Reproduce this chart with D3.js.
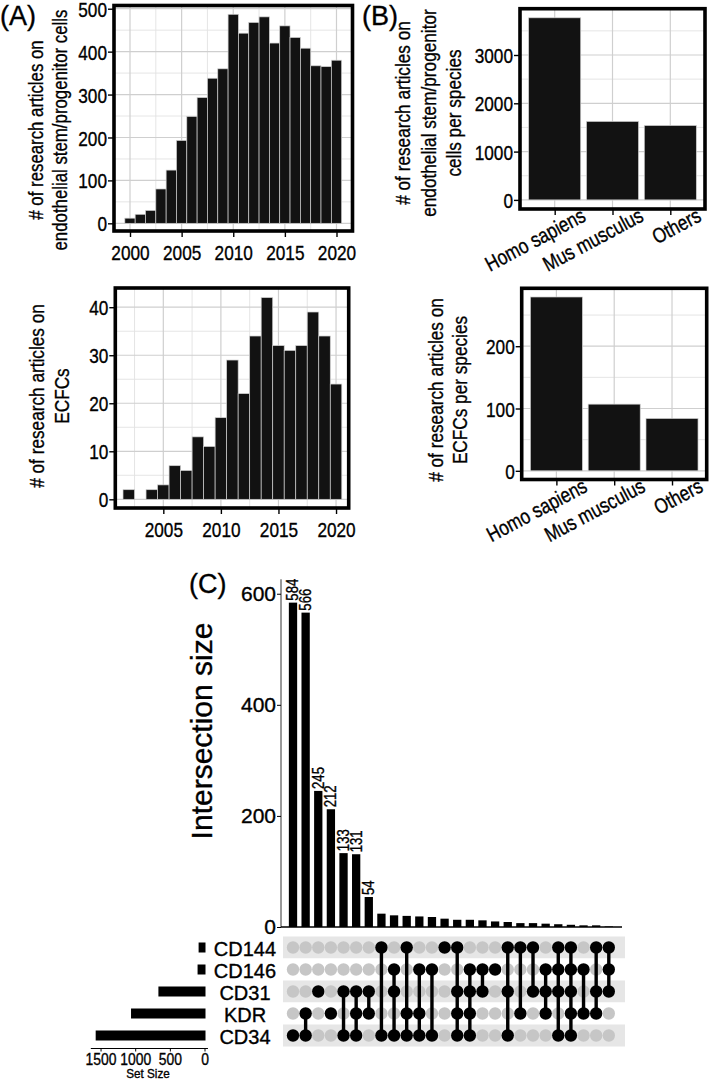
<!DOCTYPE html>
<html><head><meta charset="utf-8">
<script src="https://cdn.jsdelivr.net/npm/d3@7"></script>
<style>
body{margin:0;background:#fff}
svg{display:block}
svg text{stroke:#000;stroke-width:0.35px;paint-order:stroke}
</style>
</head><body>
<svg id="c" width="709" height="1083"></svg>
<script>
// ---------- DATA ----------
const yearsAll = d3.range(2000, 2021);
const articlesAll = [12,21,30,80,124,193,249,293,338,360,487,443,468,481,420,460,433,408,367,365,380];
const yearsECFC = d3.range(2002, 2021);
const articlesECFC = [2,0,2,3,7,6,13,11,17,29,22,34,42,32,31,32,39,34,24];
const species = ["Homo sapiens","Mus musculus","Others"];
const speciesAll = [3770,1625,1540];
const speciesECFC = [279,107,84];
const sets = ["CD144","CD146","CD31","KDR","CD34"];
const setSizes = [85,100,665,1060,1570];
const intersections = [
  ["CD34"],["KDR","CD34"],["CD31"],["KDR"],["CD31","CD34"],["CD31","KDR","CD34"],["CD31","KDR"],
  ["CD144","CD34"],["CD146","CD31","CD34"],["CD144","KDR","CD34"],["CD146","KDR","CD34"],["CD146","CD34"],
  ["CD144"],["CD144","CD31","KDR","CD34"],["CD146","CD31","KDR","CD34"],["CD146","CD31"],["CD146"],
  ["CD144","CD31","CD34"],["CD144","KDR"],["CD144","CD31"],["CD146","CD31","KDR"],
  ["CD144","CD146","CD31","CD34"],["CD144","CD146","CD31","KDR","CD34"],["CD146","KDR"],
  ["CD144","CD31","KDR"],["CD144","CD146","CD31"]
];
const intersectionSizes = [584,566,245,212,133,131,54,24,21,20,19,18,15,13,13,12,10,9,7,7,6,5,4,3,3,1];
const labelledCount = 7;
const yTicksAll = [0,100,200,300,400,500];
const yTicksECFC = [0,10,20,30,40];
const xTicksAll = [2000,2005,2010,2015,2020];
const xTicksECFC = [2005,2010,2015,2020];
const yTicksSpAll = [0,1000,2000,3000];
const yTicksSpECFC = [0,100,200];
const yTicksInter = [0,200,400,600];
const xTicksSet = [1500,1000,500,0];

// ---------- HELPERS ----------
const svg = d3.select("#c");
const FONT = "'Liberation Sans',Arial,sans-serif";
const NX = 0.82; // horizontal condensing factor (narrow look)
const BAR = "#121212";

function styleAxis(g, size, narrow){
  g.select(".domain").remove();
  g.selectAll(".tick line").attr("stroke","#000").attr("stroke-width",1.4);
  const t = g.selectAll(".tick text").attr("fill","#000").style("font-family",FONT).style("font-size",size+"px");
  if(narrow){
    t.each(function(){
      const s = d3.select(this);
      const x = +s.attr("x") || 0;
      s.attr("x",0).attr("transform",`translate(${x},0) scale(${NX},1)`);
    });
  }
}

function ggPanel(o){
  const g = svg.append("g");
  const [L,R] = o.x.range(), [B,T] = o.y.range();
  g.selectAll(null).data(o.yMinor).join("line")
    .attr("x1",L).attr("x2",R).attr("y1",d=>o.y(d)).attr("y2",d=>o.y(d))
    .attr("stroke","#e2e2e2").attr("stroke-width",0.9);
  g.selectAll(null).data(o.xMinor||[]).join("line")
    .attr("y1",T).attr("y2",B).attr("x1",d=>o.x(d)).attr("x2",d=>o.x(d))
    .attr("stroke","#e2e2e2").attr("stroke-width",0.9);
  g.selectAll(null).data(o.yTicks).join("line")
    .attr("x1",L).attr("x2",R).attr("y1",d=>o.y(d)).attr("y2",d=>o.y(d))
    .attr("stroke","#cfcfcf").attr("stroke-width",1.2);
  g.selectAll(null).data(o.xTicks).join("line")
    .attr("y1",T).attr("y2",B).attr("x1",d=>o.x(d)).attr("x2",d=>o.x(d))
    .attr("stroke","#cfcfcf").attr("stroke-width",1.2);
  o.drawBars(g);
  g.append("rect").attr("x",L).attr("y",T).attr("width",R-L).attr("height",B-T)
    .attr("fill","none").attr("stroke","#000").attr("stroke-width",3.6);
  const ya = g.append("g").attr("transform",`translate(${L},0)`)
    .call(d3.axisLeft(o.y).tickValues(o.yTicks).tickSize(6).tickPadding(1).tickFormat(d3.format("d")));
  styleAxis(ya, 21, true);
  ya.selectAll(".tick text").attr("dy","0.36em");
  if(o.xCats){
    const xa = g.append("g").attr("transform",`translate(0,${B})`)
      .call(d3.axisBottom(o.x).tickValues(o.xTicks).tickSize(6).tickFormat(""));
    styleAxis(xa, 21, false);
    g.selectAll(null).data(o.xCats).join("text")
      .attr("transform",(d,i)=>`translate(${o.x(i+1)+29},${B+5}) rotate(-28) scale(${NX},1)`)
      .attr("text-anchor","end").attr("dominant-baseline","central")
      .style("font-family",FONT).style("font-size","21px").text(d=>d);
  } else {
    const xa = g.append("g").attr("transform",`translate(0,${B})`)
      .call(d3.axisBottom(o.x).tickValues(o.xTicks).tickSize(6).tickPadding(8).tickFormat(d3.format("d")));
    styleAxis(xa, 21, true);
  }
  const tt = g.append("text").attr("transform",`translate(${o.titleX},${o.titleY}) rotate(-90) scale(${NX},1)`)
    .attr("text-anchor","middle").style("font-family",FONT).style("font-size",(o.titleSize||21)+"px");
  o.title.forEach((line,i)=>{
    tt.append("tspan").attr("x",0).attr("y",o.titleDy[i]).text(line);
  });
}

function histBars(years, vals, x, y){
  return g=>{
    g.selectAll(null).data(years).join("rect")
      .attr("x",d=>x(d-0.5)).attr("width",d=>x(d+0.5)-x(d-0.5))
      .attr("y",(d,i)=>y(vals[i])).attr("height",(d,i)=>y(0)-y(vals[i]))
      .attr("fill",BAR).attr("stroke","#cfcfcf").attr("stroke-width",0.7);
  };
}
function catBars(vals, x, y){
  return g=>{
    g.selectAll(null).data(vals).join("rect")
      .attr("x",(d,i)=>x(i+1-0.45)).attr("width",(d,i)=>x(i+1.45)-x(i+1-0.45))
      .attr("y",d=>y(d)).attr("height",d=>y(0)-y(d))
      .attr("fill",BAR).attr("stroke","#cfcfcf").attr("stroke-width",0.7);
  };
}

// ---------- PANEL A top ----------
{
  const x = d3.scaleLinear().domain([1998.45,2021.55]).range([114,352.5]);
  const y = d3.scaleLinear().domain([-17.9,507.5]).range([231,5.5]);
  ggPanel({x,y,yTicks:yTicksAll,yMinor:d3.range(50,500,100),xTicks:xTicksAll,xMinor:[2002.5,2007.5,2012.5,2017.5],
    drawBars:histBars(yearsAll,articlesAll,x,y),titleSize:20.5,
    title:["# of research articles on","endothelial stem/progenitor cells"],titleX:0,titleY:130,titleDy:[43,67]});
}
// ---------- PANEL A bottom ----------
{
  const x = d3.scaleLinear().domain([2000.83,2021.1]).range([115.3,348.7]);
  const y = d3.scaleLinear().domain([-1.81,44.0]).range([508,288]);
  ggPanel({x,y,yTicks:yTicksECFC,yMinor:[5,15,25,35],xTicks:xTicksECFC,xMinor:[2002.5,2007.5,2012.5,2017.5],
    drawBars:histBars(yearsECFC,articlesECFC,x,y),
    title:["# of research articles on","ECFCs"],titleX:0,titleY:396,titleDy:[44,69]});
}
// ---------- PANEL B top ----------
{
  const x = d3.scaleLinear().domain([0.4,3.6]).range([520,705]);
  const y = d3.scaleLinear().domain([-188.5,3958.5]).range([209,8.7]);
  ggPanel({x,y,yTicks:yTicksSpAll,yMinor:[500,1500,2500,3500],xTicks:[1,2,3],xMinor:[],xCats:species,
    drawBars:catBars(speciesAll,x,y),
    title:["# of research articles on","endothelial stem/progenitor","cells per species"],titleX:0,titleY:113,titleDy:[410,436,461]});
}
// ---------- PANEL B bottom ----------
{
  const x = d3.scaleLinear().domain([0.4,3.6]).range([521.7,706.7]);
  const y = d3.scaleLinear().domain([-13.95,292.95]).range([479.5,288.3]);
  ggPanel({x,y,yTicks:yTicksSpECFC,yMinor:[50,150,250],xTicks:[1,2,3],xMinor:[],xCats:species,
    drawBars:catBars(speciesECFC,x,y),
    title:["# of research articles on","ECFCs per species"],titleX:0,titleY:390,titleDy:[443,467]});
}

// panel letters
[["(A)",0,25],["(B)",362,25],["(C)",189,593]].forEach(([t,xx,yy])=>{
  svg.append("text").attr("x",xx).attr("y",yy).style("font-family",FONT).style("font-size","27px").text(t);
});

// ---------- PANEL C : UpSet ----------
{
  const cx = d3.scaleLinear().domain([0,intersections.length-1]).range([293,608.8]);
  const ry = d3.scaleLinear().domain([0,sets.length-1]).range([947.5,1035.5]);
  const yi = d3.scaleLinear().domain([0,626]).range([927,579.3]);
  const g = svg.append("g");
  const bw = 8.3;
  g.selectAll(null).data(intersectionSizes).join("rect")
    .attr("x",(d,i)=>cx(i)-bw/2).attr("width",bw)
    .attr("y",d=>yi(d)).attr("height",d=>yi(0)-yi(d)).attr("fill","#000");
  g.selectAll(null).data(intersectionSizes.slice(0,labelledCount)).join("text")
    .attr("transform",(d,i)=>`translate(${cx(i)},${yi(d)-2}) rotate(-90) scale(${NX},1)`)
    .attr("dominant-baseline","central").attr("text-anchor","start")
    .style("font-family",FONT).style("font-size","16px").text(d=>d);
  g.append("line").attr("x1",281).attr("x2",281).attr("y1",yi(0)).attr("y2",yi(626))
    .attr("stroke","#333").attr("stroke-width",1);
  g.append("line").attr("x1",281).attr("x2",622).attr("y1",yi(0)).attr("y2",yi(0))
    .attr("stroke","#000").attr("stroke-width",1.4);
  const ya = g.append("g").attr("transform","translate(281,0)")
    .call(d3.axisLeft(yi).tickValues(yTicksInter).tickSize(4).tickPadding(1));
  styleAxis(ya, 21, false);
  ya.selectAll(".tick line").attr("stroke-width",1);
  ya.selectAll(".tick text").attr("dy","0.33em");
  g.append("text").attr("transform",`translate(212,731) rotate(-90)`).attr("text-anchor","middle")
    .style("font-family",FONT).style("font-size","30px").text("Intersection size");
  g.selectAll(null).data(sets).join("rect")
    .attr("x",283).attr("width",342).attr("y",(d,i)=>ry(i)-11).attr("height",22)
    .attr("fill",(d,i)=>i%2===0?"#e6e6e6":"#ffffff");
  intersections.forEach((memb,i)=>{
    sets.forEach((s,j)=>{
      g.append("circle").attr("cx",cx(i)).attr("cy",ry(j)).attr("r",6.2)
        .attr("fill",memb.includes(s)?"#000":"#c6c6c6");
    });
  });
  intersections.forEach((memb,i)=>{
    const idx = memb.map(s=>sets.indexOf(s));
    if(idx.length>1){
      g.append("line").attr("x1",cx(i)).attr("x2",cx(i))
        .attr("y1",ry(d3.min(idx))).attr("y2",ry(d3.max(idx)))
        .attr("stroke","#000").attr("stroke-width",3.4);
    }
  });
  g.selectAll(null).data(sets).join("text")
    .attr("x",245).attr("y",(d,i)=>ry(i)+1).attr("text-anchor","middle").attr("dominant-baseline","central")
    .style("font-family",FONT).style("font-size","20px").text(d=>d);
  const xs = d3.scaleLinear().domain([0,1600]).range([204.5,93.6]);
  g.selectAll(null).data(setSizes).join("rect")
    .attr("x",d=>xs(d)).attr("width",d=>xs(0)-xs(d)+1)
    .attr("y",(d,i)=>ry(i)-5).attr("height",10).attr("fill","#000");
  g.append("line").attr("x1",xs(1640)).attr("x2",xs(-50)).attr("y1",1048.5).attr("y2",1048.5)
    .attr("stroke","#000").attr("stroke-width",1);
  const xa = g.append("g").attr("transform","translate(0,1048.5)")
    .call(d3.axisBottom(xs).tickValues(xTicksSet).tickSize(3).tickPadding(1).tickFormat(d3.format("d")));
  styleAxis(xa, 17, true);
  xa.selectAll(".tick line").attr("stroke-width",1);
  g.append("text").attr("transform","translate(148,1078) scale(0.9,1)").attr("text-anchor","middle")
    .style("font-family",FONT).style("font-size","13px").text("Set Size");
}
</script>
</body></html>
